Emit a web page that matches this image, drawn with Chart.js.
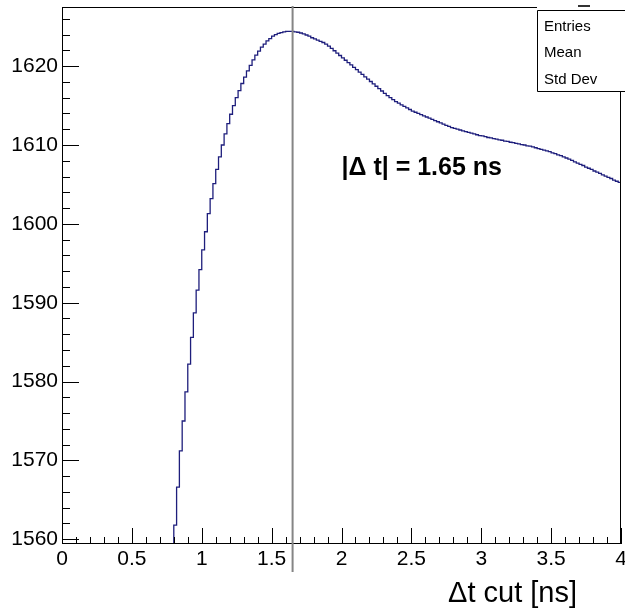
<!DOCTYPE html>
<html>
<head>
<meta charset="utf-8">
<script src="https://cdn.jsdelivr.net/npm/chart.js@4/dist/chart.umd.min.js"></script>
<style>
  html, body { margin: 0; padding: 0; background: #fff; }
  canvas { display: block; }
</style>
</head>
<body>
<canvas id="c" width="625" height="611"></canvas>
<script>
// Histogram binning (ns): first visible-range bin low edge and bin width
const binStart = 0.78;
const binWidth = 0.02;

// Bin contents from 0.78 ns to 3.98 ns (low edges)
const binContent = [
  1556.5,
  1561.8, 1566.6, 1571.2, 1575.0, 1578.7, 1582.2, 1585.6, 1588.7, 1591.6, 1594.2,
  1596.7, 1599.0, 1601.3, 1603.2, 1605.1, 1606.9, 1608.5, 1610.0, 1611.4, 1612.7,
  1613.9, 1615.0, 1616.0, 1616.9, 1617.8, 1618.6, 1619.4, 1620.1, 1620.8, 1621.4,
  1621.9, 1622.4, 1622.8, 1623.2, 1623.5, 1623.8, 1624.0, 1624.15, 1624.25, 1624.35,
  1624.4, 1624.4, 1624.4,
  1624.35, 1624.3, 1624.2, 1624.1, 1623.95, 1623.8, 1623.6, 1623.45, 1623.3, 1623.15,
  1623.0, 1622.8, 1622.55, 1622.25, 1621.95, 1621.65, 1621.35, 1621.05, 1620.75, 1620.45,
  1620.15, 1619.85, 1619.55, 1619.25, 1618.95, 1618.65, 1618.35, 1618.05, 1617.75, 1617.45,
  1617.15, 1616.85, 1616.55, 1616.25, 1616.0, 1615.75, 1615.5, 1615.3, 1615.1, 1614.9,
  1614.7, 1614.5, 1614.3, 1614.15, 1614.0, 1613.85, 1613.7, 1613.55, 1613.4, 1613.25,
  1613.1, 1612.95, 1612.8, 1612.65, 1612.5, 1612.35, 1612.2, 1612.1, 1612.0, 1611.9,
  1611.8, 1611.7, 1611.6, 1611.5, 1611.4, 1611.3, 1611.2, 1611.15, 1611.05, 1610.95,
  1610.9, 1610.8, 1610.75, 1610.65, 1610.6, 1610.5, 1610.45, 1610.35, 1610.3, 1610.2,
  1610.15, 1610.05, 1610.0, 1609.9, 1609.85, 1609.75, 1609.65, 1609.55, 1609.45, 1609.35,
  1609.25, 1609.15, 1609.0, 1608.9, 1608.75, 1608.65, 1608.5, 1608.35, 1608.2, 1608.05,
  1607.85, 1607.7, 1607.55, 1607.4, 1607.2, 1607.05, 1606.9, 1606.7, 1606.55, 1606.4,
  1606.2, 1606.05, 1605.9, 1605.75, 1605.55, 1605.4, 1605.25
];

// Axis ranges and tick spacing
const xRange = [0, 4];
const yRange = [1559.4, 1627.5];
const xMajorStep = 0.5, xMinorDiv = 5;
const yMajorStep = 10, yMinorDiv = 5;

// Selected cut and text
const cutValue = 1.65;
const cutLabel = '|\u0394 t| = ' + cutValue + ' ns';
const cutLabelPos = { x: 2.0, y: 1606.2 };
const xTitle = '\u0394t cut [ns]';
const statLabels = ['Entries', 'Mean', 'Std Dev'];

const FONT = '"Liberation Sans", Arial, Helvetica, sans-serif';

// Step points: each bin drawn flat from its low edge to the next edge
const points = binContent.map((v, i) => ({ x: binStart + i * binWidth, y: v }));
points.push({ x: binStart + binContent.length * binWidth, y: binContent[binContent.length - 1] });

// Inward ticks, frame, cut line, labels and stats box
const decorations = {
  id: 'decorations',
  afterDraw(chart) {
    const { ctx, chartArea: a, scales: { x, y } } = chart;
    ctx.save();
    ctx.strokeStyle = '#000';
    ctx.lineWidth = 1;

    // frame
    ctx.strokeRect(Math.round(a.left) + 0.5, Math.round(a.top) + 0.5,
      Math.round(a.right - a.left) - 1, Math.round(a.bottom - a.top) - 1);

    // y ticks (major + minor), pointing into the plot
    const yMinor = yMajorStep / yMinorDiv;
    const yStart = Math.ceil(yRange[0] / yMinor);
    const yEnd = Math.floor(yRange[1] / yMinor);
    for (let k = yStart; k <= yEnd; k++) {
      const v = k * yMinor;
      const py = Math.round(y.getPixelForValue(v)) + 0.5;
      const major = Math.abs(v / yMajorStep - Math.round(v / yMajorStep)) < 1e-6;
      ctx.beginPath();
      ctx.moveTo(a.left, py);
      ctx.lineTo(a.left + (major ? 17 : 8), py);
      ctx.stroke();
    }

    // x ticks (major + minor), pointing up
    const xMinor = xMajorStep / xMinorDiv;
    const nx = Math.round((xRange[1] - xRange[0]) / xMinor);
    for (let k = 0; k <= nx; k++) {
      const v = xRange[0] + k * xMinor;
      const px = Math.round(x.getPixelForValue(v)) + 0.5;
      const major = k % xMinorDiv === 0;
      ctx.beginPath();
      ctx.moveTo(px, a.bottom);
      ctx.lineTo(px, a.bottom - (major ? 16 : 7));
      ctx.stroke();
    }

    // vertical cut line
    const cx = x.getPixelForValue(cutValue);
    ctx.strokeStyle = '#858585';
    ctx.lineWidth = 2;
    ctx.beginPath();
    ctx.moveTo(cx, a.top - 1);
    ctx.lineTo(cx, a.bottom + 28);
    ctx.stroke();

    // cut annotation
    ctx.fillStyle = '#000';
    ctx.font = 'bold 25px ' + FONT;
    ctx.textAlign = 'left';
    ctx.textBaseline = 'alphabetic';
    ctx.fillText(cutLabel, x.getPixelForValue(cutLabelPos.x), y.getPixelForValue(cutLabelPos.y));

    // x axis title
    ctx.font = '29px ' + FONT;
    ctx.textAlign = 'right';
    ctx.fillText(xTitle, 577, 602);

    // stats box in the top-right corner
    const bx = 537.5, by = 10.5, bb = 91.5;
    ctx.fillStyle = '#fff';
    ctx.fillRect(bx - 0.5, 0, chart.width - bx + 1, bb);
    ctx.strokeStyle = '#000';
    ctx.lineWidth = 1;
    ctx.beginPath();
    ctx.moveTo(chart.width, by);
    ctx.lineTo(bx, by);
    ctx.lineTo(bx, bb);
    ctx.lineTo(chart.width, bb);
    ctx.stroke();
    ctx.fillStyle = '#333';
    ctx.fillRect(578, 5, 12, 2);

    ctx.fillStyle = '#000';
    ctx.font = '15px ' + FONT;
    ctx.textAlign = 'left';
    const rows = [30.5, 56.7, 84];
    statLabels.forEach((s, i) => ctx.fillText(s, 544, rows[i]));

    ctx.restore();
  }
};

new Chart(document.getElementById('c'), {
  type: 'line',
  data: {
    datasets: [{
      data: points,
      borderColor: '#1e1e7c',
      borderWidth: 1.3,
      pointRadius: 0,
      stepped: 'before',
      fill: false,
      tension: 0
    }]
  },
  options: {
    responsive: false,
    animation: false,
    devicePixelRatio: 1,
    events: [],
    layout: { padding: { top: 7, right: 4, left: 0, bottom: 0 } },
    plugins: { legend: { display: false }, tooltip: { enabled: false } },
    scales: {
      x: {
        type: 'linear',
        min: xRange[0],
        max: xRange[1],
        grid: { display: false, drawTicks: false },
        border: { display: false },
        ticks: {
          stepSize: xMajorStep,
          autoSkip: false,
          maxRotation: 0,
          padding: 3,
          color: '#000',
          font: { family: FONT, size: 21 },
          callback: v => String(v)
        },
        afterFit(s) { s.height = 67; s.paddingLeft = 0; s.paddingRight = 0; }
      },
      y: {
        type: 'linear',
        min: yRange[0],
        max: yRange[1],
        grid: { display: false, drawTicks: false },
        border: { display: false },
        ticks: {
          stepSize: yMajorStep,
          includeBounds: false,
          padding: 4,
          color: '#000',
          font: { family: FONT, size: 21 },
          callback: v => String(v)
        },
        afterFit(s) { s.width = 62; s.paddingTop = 0; s.paddingBottom = 0; }
      }
    }
  },
  plugins: [decorations]
});
</script>
</body>
</html>
